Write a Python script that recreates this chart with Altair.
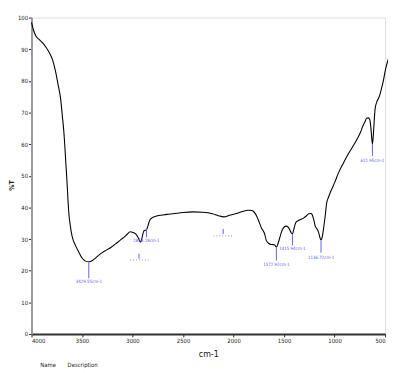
import altair as alt
import pandas as pd

# Spectrum (wavenumber cm-1, %T)
wn = [4000, 3980, 3954, 3920, 3890, 3860, 3825, 3790, 3760, 3735, 3712, 3695, 3680, 3660,
      3648, 3631, 3615, 3599, 3565, 3534, 3500, 3470, 3437, 3410, 3373, 3330, 3276, 3230,
      3179, 3146, 3110, 3082, 3050, 3023, 2995, 2969, 2945, 2920, 2905, 2888, 2862, 2845,
      2830, 2807, 2760, 2700, 2661, 2600, 2500, 2402, 2305, 2250, 2208, 2150, 2096, 2040,
      1983, 1920, 1854, 1820, 1805, 1780, 1757, 1724, 1692, 1675, 1650, 1627, 1595, 1575,
      1560, 1546, 1530, 1514, 1495, 1481, 1460, 1449, 1430, 1417, 1400, 1384, 1360, 1336,
      1304, 1280, 1255, 1235, 1223, 1205, 1191, 1170, 1158, 1140, 1132, 1120, 1110, 1093,
      1078, 1060, 1045, 1020, 997, 960, 916, 880, 836, 800, 770, 740, 722, 700, 683, 665,
      651, 640, 632, 625, 618, 612, 598, 580, 559, 540, 520, 495, 469, 450]
pt = [98.5, 96, 94, 93, 92, 90.8, 89, 86.5, 82.7, 78.5, 74.4, 69, 64, 54,
      47.7, 38.4, 34, 31, 28, 26, 24, 23.1, 22.8, 23, 23.8, 25, 26.2, 27,
      28.2, 29, 30, 30.6, 31.6, 32.3, 32.1, 31.6, 30.5, 29, 30.5, 32.6, 32.9, 34.5,
      35.9, 36.7, 37.3, 37.6, 37.8, 38, 38.4, 38.6, 38.5, 38.3, 38, 37.4, 37, 37.5,
      38, 38.6, 39.1, 39, 38.8, 37.8, 36.2, 33.5, 31.6, 29.5, 28.6, 28.3, 28.2, 27.5,
      28.5, 30, 31.8, 33.1, 33.9, 34.1, 33.8, 33.3, 32, 31.6, 33.5, 35.2, 35.8, 36.2,
      36.7, 37.3, 38, 38.1, 37.8, 36, 34.1, 33, 32.1, 30, 29.7, 31, 33.1, 37.2,
      41.4, 43.2, 44.5, 46.3, 48, 51, 53.8, 56, 58.4, 60.3, 62, 64, 65.6, 67, 68.2, 68.3,
      67.7, 65, 62, 60, 62, 65, 71.3, 73.5, 74.9, 77, 79.6, 83.7, 86.8, 88.5]

# Peak labels
peak_wn = [3433, 2862, 1576, 1417, 1134, 625]
peak_text = ["3429.55cm-1", "2858.28cm-1", "1572.92cm-1", "1415.94cm-1", "1136.72cm-1", "621.95cm-1"]
peak_top = [22.6, 33.4, 27.6, 31.6, 29.5, 60.0]
peak_bot = [17.6, 30.6, 23.2, 28.0, 25.7, 56.3]
peak_lab = [16.4, 29.4, 21.8, 26.7, 24.1, 54.8]

# Empty label markers
mark_wn = [2936, 2102]
mark_top = [25.4, 33.2]
mark_bot = [23.8, 31.6]
mark_from = [3023, 2199]
mark_to = [2839, 1999]
mark_dot = [23.4, 31.0]

x_ticks = [4000, 3500, 3000, 2500, 2000, 1500, 1000, 500]
y_ticks = [0, 10, 20, 30, 40, 50, 60, 70, 80, 90, 100]

spec = pd.DataFrame({"wn": wn, "t": pt})
peaks = pd.DataFrame({"wn": peak_wn, "label": peak_text, "top": peak_top,
                      "bot": peak_bot, "lab": peak_lab})
marks = pd.DataFrame({"wn": mark_wn, "top": mark_top, "bot": mark_bot,
                      "x1": mark_from, "x2": mark_to, "dot": mark_dot})

FONT = "Liberation Sans Narrow, Arial Narrow, DejaVu Sans Condensed, Liberation Sans, sans-serif"
BLUE = "#5c5cff"

xs = alt.Scale(domain=[4000, 500], nice=False, zero=False)
ys = alt.Scale(domain=[0, 100], nice=False)

xaxis = alt.Axis(values=x_ticks, format="d", title="cm-1", grid=False, labelFont=FONT,
                 labelFontSize=6, labelColor="#222", tickSize=3, tickColor="#222",
                 domainColor="#333", domainWidth=2, titleFont=FONT, titleFontSize=9,
                 titleFontWeight="normal", titleY=20, titleBaseline="middle",
                 titleColor="#111", labelPadding=1, labelOverlap=False)
yaxis = alt.Axis(values=y_ticks, format="d", title="%T", grid=False, labelFont=FONT,
                 labelFontSize=6, labelColor="#222", tickSize=3, tickColor="#222",
                 domainColor="#999", domainWidth=2, titleFont=FONT, titleFontSize=7,
                 titleFontWeight="bold", titleX=-20, titleY=171, titleBaseline="middle",
                 titleAngle=270, titleColor="#222", labelPadding=1, labelOverlap=False)

line = alt.Chart(spec).mark_line(color="black", strokeWidth=1.1, interpolate="monotone").encode(
    x=alt.X("wn:Q", scale=xs, axis=xaxis),
    y=alt.Y("t:Q", scale=ys, axis=yaxis),
    order="wn:Q",
)

prule = alt.Chart(peaks).mark_rule(color=BLUE, strokeWidth=1).encode(
    x=alt.X("wn:Q", scale=xs, axis=xaxis),
    y=alt.Y("top:Q", scale=ys, axis=yaxis), y2="bot:Q")
ptext = alt.Chart(peaks).mark_text(color=BLUE, font=FONT, fontSize=4.5, baseline="middle").encode(
    x=alt.X("wn:Q", scale=xs, axis=xaxis),
    y=alt.Y("lab:Q", scale=ys, axis=yaxis), text="label:N")

mrule = alt.Chart(marks).mark_rule(color=BLUE, strokeWidth=1).encode(
    x=alt.X("wn:Q", scale=xs, axis=xaxis),
    y=alt.Y("top:Q", scale=ys, axis=yaxis), y2="bot:Q")
mdot = alt.Chart(marks).mark_rule(color=BLUE, strokeWidth=1, strokeDash=[1, 2], opacity=0.7).encode(
    x=alt.X("x1:Q", scale=xs, axis=xaxis), x2="x2:Q",
    y=alt.Y("dot:Q", scale=ys, axis=yaxis))

chart = alt.layer(line, prule, ptext, mrule, mdot).properties(
    width=361, height=323,
    autosize=alt.AutoSizeParams(type="none"),
    padding={"left": 24, "top": 6, "right": 3, "bottom": 34},
    title=alt.TitleParams(text="Name\u00a0\u00a0\u00a0\u00a0\u00a0\u00a0\u00a0Description",
                          orient="bottom", anchor="start", frame="group", dx=9, offset=4,
                          font=FONT, fontSize=6, fontWeight="normal", color="#222"),
).configure_view(stroke=None).configure(background="white")

chart.save("out.html", embed_options={"renderer": "svg", "actions": False})
